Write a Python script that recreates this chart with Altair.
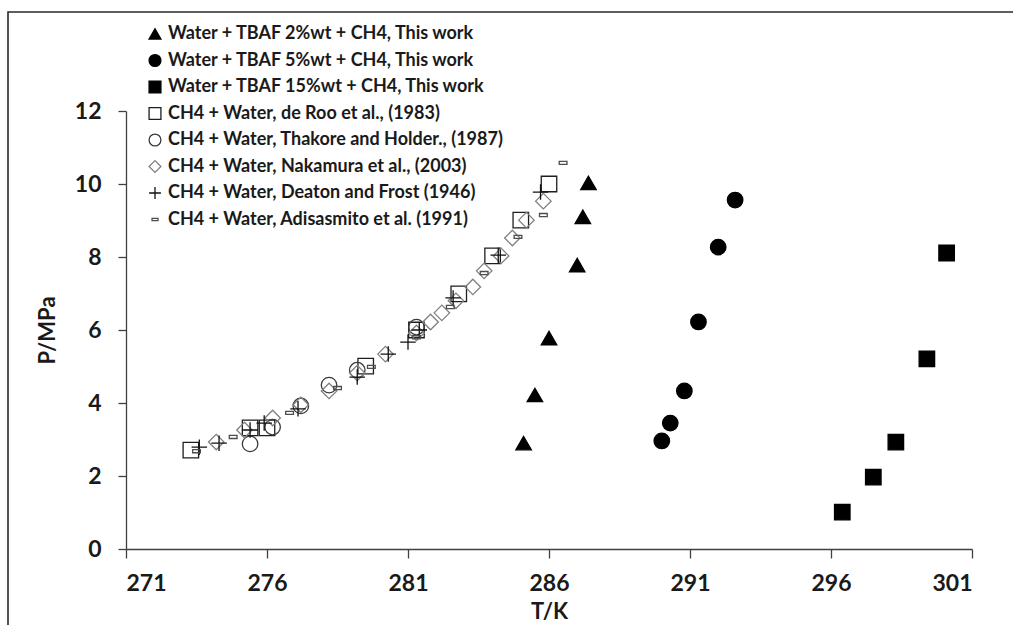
import altair as alt
import pandas as pd

# Series labels, in legend order
series_names = [
    "Water + TBAF 2%wt + CH4, This work",
    "Water + TBAF 5%wt + CH4, This work",
    "Water + TBAF 15%wt + CH4, This work",
    "CH4 + Water, de Roo et al., (1983)",
    "CH4 + Water, Thakore and Holder., (1987)",
    "CH4 + Water, Nakamura et al., (2003)",
    "CH4 + Water, Deaton and Frost (1946)",
    "CH4 + Water, Adisasmito et al. (1991)",
]

# This work: TBAF semiclathrate hydrates of methane
tbaf2_T = [285.1, 285.5, 286.0, 287.0, 287.2, 287.4]
tbaf2_P = [2.90, 4.22, 5.78, 7.78, 9.10, 10.03]

tbaf5_T = [290.0, 290.3, 290.8, 291.3, 292.0, 292.6]
tbaf5_P = [2.96, 3.45, 4.33, 6.22, 8.27, 9.56]

tbaf15_T = [296.4, 297.5, 298.3, 299.4, 300.1]
tbaf15_P = [1.01, 1.97, 2.93, 5.21, 8.11]

# Literature: methane hydrate in pure water
deroo_T = [273.3, 275.4, 276.0, 279.5, 281.3, 282.8, 284.0, 285.0, 286.0]
deroo_P = [2.71, 3.32, 3.32, 5.01, 6.00, 6.99, 8.03, 9.01, 10.00]

thakore_T = [275.4, 276.2, 277.2, 278.2, 279.2, 281.3]
thakore_P = [2.88, 3.34, 3.92, 4.49, 4.90, 6.08]

nakamura_T = [274.2, 275.2, 276.2, 277.2, 278.2, 279.2, 280.2, 281.3, 281.8,
              282.2, 282.7, 283.3, 283.7, 284.3, 284.7, 285.2, 285.8]
nakamura_P = [2.93, 3.26, 3.59, 3.95, 4.33, 4.82, 5.34, 5.92, 6.22,
              6.47, 6.80, 7.18, 7.62, 8.03, 8.52, 9.01, 9.53]

deaton_T = [273.6, 274.3, 275.4, 275.9, 277.1, 279.2, 280.3, 281.0, 281.4,
            282.6, 284.2, 285.7]
deaton_P = [2.79, 2.90, 3.26, 3.45, 3.84, 4.71, 5.34, 5.67, 6.00,
            6.88, 8.05, 9.78]

adisasmito_T = [273.5, 274.8, 276.8, 278.5, 279.7, 281.3, 282.5, 283.7,
                284.9, 285.8, 286.5]
adisasmito_P = [2.68, 3.07, 3.73, 4.41, 4.99, 5.80, 6.63, 7.56,
                8.55, 9.15, 10.58]

groups = [
    (tbaf2_T, tbaf2_P), (tbaf5_T, tbaf5_P), (tbaf15_T, tbaf15_P),
    (deroo_T, deroo_P), (thakore_T, thakore_P), (nakamura_T, nakamura_P),
    (deaton_T, deaton_P), (adisasmito_T, adisasmito_P),
]

rows = []
for name, (ts, ps) in zip(series_names, groups):
    for t, p in zip(ts, ps):
        rows.append({"series": name, "T": t, "P": p})
df = pd.DataFrame(rows)

# Marker styles per series
PLUS = "M-1,0H1M0,-1V1"
DASH = "M-0.5,-0.2H0.5V0.2H-0.5Z"
shapes = ["triangle-up", "circle", "square", "square", "circle", "diamond", PLUS, DASH]
fills = ["#000000", "#000000", "#000000", "transparent", "transparent",
         "transparent", "transparent", "transparent"]
strokes = ["#000000", "#000000", "#000000", "#1e1e1e", "#3a3a3a",
           "#808080", "#111111", "#4d4d4d"]

FONT = "Lato"

legend = alt.Legend(
    orient="none", legendX=20, legendY=-86, title=None,
    labelFont=FONT, labelFontWeight="bold", labelFontSize=18,
    labelColor="#1a1a1a", labelLimit=600, labelOffset=4,
    symbolSize=140, symbolStrokeWidth=1.3, rowPadding=8.5, padding=0,
)

points = alt.Chart(df).mark_point(size=240, strokeWidth=1.3, opacity=1).encode(
    x=alt.X("T:Q",
            scale=alt.Scale(domain=[271, 301], nice=False, zero=False),
            axis=alt.Axis(values=[271, 276, 281, 286, 291, 296, 301],
                          title="T/K", tickSize=9, labelPadding=14,
                          titlePadding=6)),
    y=alt.Y("P:Q",
            scale=alt.Scale(domain=[0, 12], nice=False),
            axis=alt.Axis(values=[0, 2, 4, 6, 8, 10, 12],
                          title="P/MPa", tickSize=8, labelPadding=17,
                          titlePadding=15)),
    shape=alt.Shape("series:N", scale=alt.Scale(domain=series_names, range=shapes), legend=legend),
    fill=alt.Fill("series:N", scale=alt.Scale(domain=series_names, range=fills), legend=legend),
    stroke=alt.Stroke("series:N", scale=alt.Scale(domain=series_names, range=strokes), legend=legend),
)

# Outer frame around the figure
frame = alt.Chart(pd.DataFrame({"k": [0]})).mark_rect(
    fillOpacity=0, stroke="#2a2a2a", strokeWidth=1.6
).encode(
    x=alt.value(-118), x2=alt.value(905),
    y=alt.value(-99), y2=alt.value(530),
)

chart = alt.layer(frame, points).properties(
    width=846, height=438,
    autosize=alt.AutoSizeParams(type="none"),
    padding={"left": 126, "top": 111, "right": 41, "bottom": 76},
    background="white",
).configure_view(stroke=None).configure_axis(
    grid=False,
    domainColor="#404040", domainWidth=1.3,
    tickColor="#404040", tickWidth=1.3,
    labelFont=FONT, labelFontWeight="bold", labelFontSize=23, labelColor="#1a1a1a",
    titleFont=FONT, titleFontWeight="bold", titleFontSize=22, titleColor="#1a1a1a",
)

chart.save("out.html", embed_options={"renderer": "svg", "actions": False})
